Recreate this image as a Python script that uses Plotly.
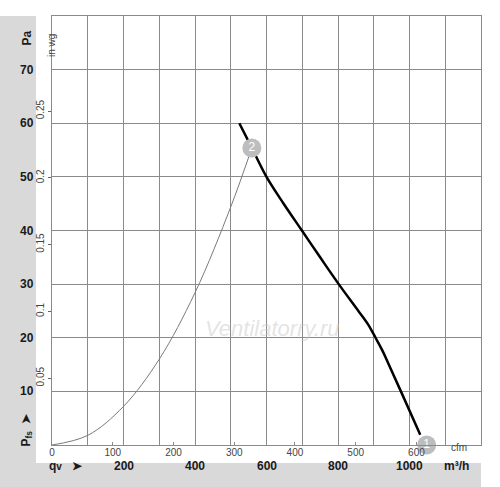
import plotly.graph_objects as go

# ---- data ----
fan_q = [524, 559, 600, 648, 699, 750, 802, 857, 884, 905, 925, 942, 976, 1030]   # m³/h
fan_p = [60.0, 55.4, 50.0, 45.0, 40.0, 35.0, 30.0, 25.0, 22.5, 20.0, 17.5, 15.0, 10.0, 1.9]  # Pa

sys_q = [0, 100, 200, 300, 400, 500, 559]
sys_p = [0, 1.8, 7.2, 16.0, 28.4, 44.4, 55.4]

pts_q = [1048, 559]
pts_p = [0, 55.4]
pts_lbl = ["1", "2"]

pa_ticks = [10, 20, 30, 40, 50, 60, 70]
m3h_ticks = [200, 400, 600, 800, 1000]
cfm_ticks = [0, 100, 200, 300, 400, 500, 600]
inwg_ticks = [0.05, 0.1, 0.15, 0.2, 0.25]
inwg_text = ["0.05", "0.1", "0.15", "0.2", "0.25"]

X_MAX = 1200
Y_MAX = 80
CFM = 1.699      # m³/h per cfm
INWG = 249.089   # Pa per in wg

FONT = "Liberation Sans, Arial, sans-serif"
GRID = "#8a8a8a"
BAND = "#d9d9d9"

fig = go.Figure()

fig.add_trace(go.Scatter(x=sys_q, y=sys_p, mode="lines",
                         line=dict(color="#7a7a7a", width=1, shape="spline"),
                         hoverinfo="skip", showlegend=False))
fig.add_trace(go.Scatter(x=fan_q, y=fan_p, mode="lines",
                         line=dict(color="#000000", width=2.5, shape="spline", smoothing=1.0),
                         hoverinfo="skip", showlegend=False))
fig.add_trace(go.Scatter(x=pts_q, y=pts_p, mode="markers+text", text=pts_lbl,
                         textposition="middle center",
                         textfont=dict(color="white", size=12, family=FONT),
                         marker=dict(size=19, color="#bdbdbd"),
                         cliponaxis=False, hoverinfo="skip", showlegend=False))
# invisible traces to activate secondary axes
fig.add_trace(go.Scatter(x=[0, X_MAX / CFM], y=[0, 0], xaxis="x2", yaxis="y",
                         mode="lines", line=dict(width=0), opacity=0,
                         hoverinfo="skip", showlegend=False))
fig.add_trace(go.Scatter(x=[0, 0], y=[0, Y_MAX / INWG], xaxis="x", yaxis="y2",
                         mode="lines", line=dict(width=0), opacity=0,
                         hoverinfo="skip", showlegend=False))

W, H = 500, 487
ML, MR, MT, MB = 52, 19, 16, 42
PW, PH = W - ML - MR, H - MT - MB


def px(xp):
    return (xp - ML) / PW


def py(yp):
    return (H - MB - yp) / PH


shapes = [
    dict(type="rect", xref="paper", yref="paper", x0=px(0), x1=px(36),
         y0=py(487), y1=py(16), fillcolor=BAND, line=dict(width=0), layer="below"),
    dict(type="rect", xref="paper", yref="paper", x0=px(0), x1=px(481),
         y0=py(487), y1=py(463), fillcolor=BAND, line=dict(width=0), layer="below"),
]

ann = []
for v in pa_ticks:
    ann.append(dict(x=px(18), y=v, xref="paper", yref="y", text=f"<b>{v}</b>",
                    showarrow=False, font=dict(size=12, color="#1a1a1a", family=FONT)))
ann.append(dict(x=px(18), y=py(29), xref="paper", yref="paper", text="<b>Pa</b>",
                textangle=-90, showarrow=False, font=dict(size=12, color="#1a1a1a", family=FONT)))
ann.append(dict(x=px(17), y=py(449), xref="paper", yref="paper",
                text="<b>P<sub>fs</sub></b>  <b>➤</b>",
                textangle=-90, showarrow=False, font=dict(size=12, color="#1a1a1a", family=FONT)))
ann.append(dict(x=px(44), y=py(32), xref="paper", yref="paper", text="in wg",
                textangle=-90, showarrow=False, font=dict(size=10, color="#444", family=FONT)))
for v in m3h_ticks:
    ann.append(dict(x=v, y=py(475), xref="x", yref="paper", text=f"<b>{v}</b>",
                    showarrow=False, font=dict(size=12, color="#1a1a1a", family=FONT)))
ann.append(dict(x=px(47), y=py(475), xref="paper", yref="paper",
                text="<b>q<span style='font-size:10px'>v</span></b>   <b>➤</b>",
                showarrow=False, font=dict(size=12, color="#1a1a1a", family=FONT)))
ann.append(dict(x=px(471), y=py(475), xref="paper", yref="paper", text="<b>m³/h</b>",
                showarrow=False, font=dict(size=12, color="#1a1a1a", family=FONT)))
ann.append(dict(x=px(469), y=py(455), xref="paper", yref="paper", text="cfm",
                showarrow=False, font=dict(size=10, color="#444", family=FONT)))
ann.append(dict(x=px(342), y=py(343), xref="paper", yref="paper",
                text="<i>Ventilatorry.ru</i>", showarrow=False,
                font=dict(size=22, color="rgba(205,205,205,0.55)", family=FONT)))

fig.update_layout(
    width=W, height=H,
    margin=dict(l=ML, r=MR, t=MT, b=MB, pad=0),
    paper_bgcolor="white", plot_bgcolor="white",
    showlegend=False,
    shapes=shapes, annotations=ann,
    xaxis=dict(range=[0, X_MAX], dtick=100, tick0=0, showgrid=True, gridcolor=GRID,
               gridwidth=1, showticklabels=False, ticks="", zeroline=False,
               showline=True, linecolor=GRID, linewidth=1, mirror=True, fixedrange=True),
    yaxis=dict(range=[0, Y_MAX], dtick=10, tick0=0, showgrid=True, gridcolor=GRID,
               gridwidth=1, showticklabels=False, ticks="", zeroline=False,
               showline=True, linecolor=GRID, linewidth=1, mirror=True, fixedrange=True),
    xaxis2=dict(overlaying="x", side="bottom", range=[0, X_MAX / CFM],
                tickvals=cfm_ticks, ticktext=[str(v) for v in cfm_ticks],
                ticks="inside", ticklen=3, tickcolor=GRID, showgrid=False,
                zeroline=False, showline=False,
                tickfont=dict(size=10, color="#444", family=FONT), fixedrange=True),
    yaxis2=dict(overlaying="y", side="left", range=[0, Y_MAX / INWG],
                tickvals=inwg_ticks, ticktext=inwg_text, tickangle=-90,
                ticks="outside", ticklen=3, tickcolor="#666", showgrid=False,
                zeroline=False, showline=False,
                tickfont=dict(size=10, color="#444", family=FONT), fixedrange=True),
)

fig.write_html("out.html", config={"displayModeBar": False},
               post_script="document.body.style.margin='0';document.body.style.overflow='hidden';")
